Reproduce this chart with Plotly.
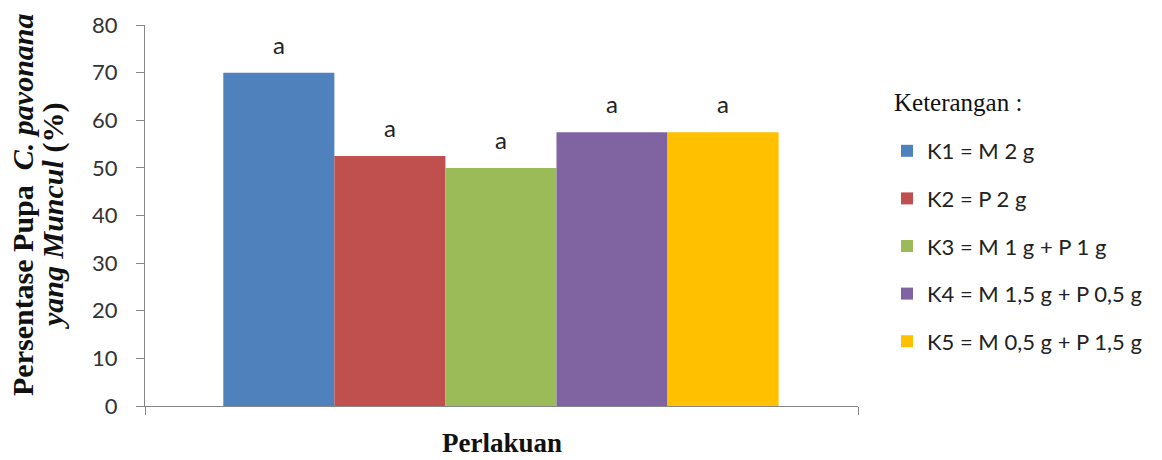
import plotly.graph_objects as go

# Treatments, mean percentage of pupae that emerged, and significance letters
treatments = ["K1 = M 2 g", "K2 = P 2 g", "K3 = M 1 g + P 1 g",
              "K4 = M 1,5 g + P 0,5 g", "K5 = M 0,5 g + P 1,5 g"]
emergence_pct = [70, 52.5, 50, 57.5, 57.5]
letters = ["a", "a", "a", "a", "a"]
bar_colors = ["#4F81BD", "#C0504D", "#9BBB59", "#8064A2", "#FFC000"]
y_ticks = [0, 10, 20, 30, 40, 50, 60, 70, 80]

AXIS_GREY = "#868686"
SANS = "Lato, 'Open Sans', sans-serif"
SERIF = "'Liberation Serif', 'Times New Roman', serif"

# plot-area geometry in pixels, used to place the free-standing labels
PLOT_L, PLOT_W, PLOT_B, PLOT_H = 145, 713, 406, 381


def px_x(px):
    return (px - PLOT_L) / PLOT_W


def px_y(py):
    return (PLOT_B - py) / PLOT_H


fig = go.Figure()
positions = list(range(1, len(treatments) + 1))
for pos, name, val, col in zip(positions, treatments, emergence_pct, bar_colors):
    fig.add_trace(go.Bar(
        x=[pos], y=[val], name=name, width=1,
        marker=dict(color=col, line=dict(width=0)),
        legendgroup=name,
    ))

# significance letters above each bar
for pos, val, letter in zip(positions, emergence_pct, letters):
    fig.add_annotation(x=pos, y=val, xref="x", yref="y", text=letter,
                       showarrow=False, yanchor="bottom", yshift=12,
                       font=dict(family=SANS, size=24, color="#222"))

# y-axis title, two rotated lines
title_font = dict(family=SERIF, size=30, color="#111")
fig.add_annotation(
    text="<b>Persentase Pupa&nbsp;&nbsp;<i>C. pavonana</i></b>",
    xref="paper", yref="paper", x=px_x(22), y=px_y(205), xanchor="center", yanchor="middle",
    textangle=-90, showarrow=False, font=title_font)
fig.add_annotation(
    text="<b><i>yang Muncul</i> (%)</b>",
    xref="paper", yref="paper", x=px_x(53), y=px_y(216), xanchor="center", yanchor="middle",
    textangle=-90, showarrow=False, font=title_font)

# x-axis title
fig.add_annotation(
    text="<b>Perlakuan</b>", xref="paper", yref="paper", x=0.5, y=px_y(443),
    xanchor="center", yanchor="middle", showarrow=False,
    font=dict(family=SERIF, size=27, color="#111"))

# legend heading
fig.add_annotation(
    text="Keterangan :", xref="paper", yref="paper", x=px_x(892), y=px_y(103),
    xanchor="left", yanchor="middle", showarrow=False,
    font=dict(family=SERIF, size=25, color="#111"))

x_lo = positions[0] - 1.205
x_hi = positions[-1] + 1.215

fig.update_layout(
    width=1162, height=460,
    margin=dict(l=PLOT_L, r=1162 - PLOT_L - PLOT_W, t=PLOT_B - PLOT_H, b=460 - PLOT_B),
    paper_bgcolor="white", plot_bgcolor="white",
    barmode="overlay",
    showlegend=True,
    legend=dict(
        x=px_x(887), xanchor="left", y=px_y(130), yanchor="top",
        font=dict(family=SANS, size=22, color="#222"),
        traceorder="grouped", tracegroupgap=16, itemwidth=30,
        bgcolor="rgba(0,0,0,0)",
    ),
    xaxis=dict(
        range=[x_lo, x_hi],
        showgrid=False, zeroline=False, showline=True, linecolor=AXIS_GREY, linewidth=1,
        tickmode="array", tickvals=[x_lo, x_hi],
        ticktext=["", ""], ticks="outside", ticklen=8, tickcolor=AXIS_GREY,
    ),
    yaxis=dict(
        range=[0, 80], tickmode="array", tickvals=y_ticks,
        showgrid=False, zeroline=False, showline=True, linecolor=AXIS_GREY, linewidth=1,
        ticks="outside", ticklen=8, tickcolor=AXIS_GREY, ticklabelstandoff=14,
        tickfont=dict(family=SANS, size=22, color="#333"),
    ),
)

fig.write_html("out.html")
